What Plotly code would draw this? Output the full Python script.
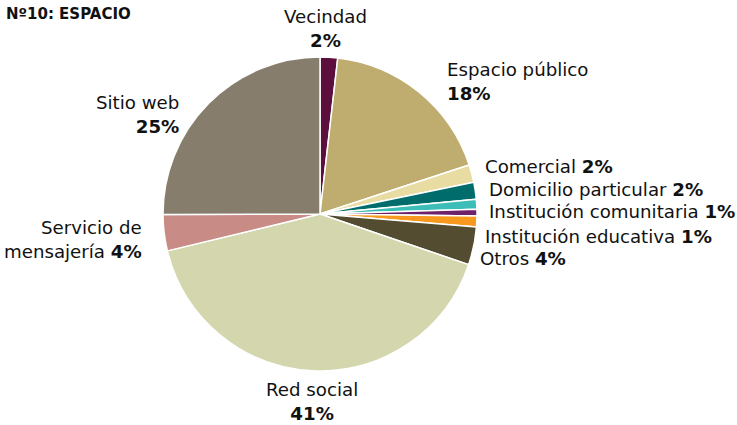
import plotly.graph_objects as go

W, H = 737, 425

categories = ["Vecindad", "Espacio público", "Comercial", "Domicilio particular",
              "Institución comunitaria", "", "Institución educativa", "Otros",
              "Red social", "Servicio de mensajería", "Sitio web"]
values = [1.8, 18.1, 1.8, 1.75, 1.0, 0.7, 1.1, 3.9, 40.9, 3.7, 25.0]
pct_labels = ["2%", "18%", "2%", "2%", "1%", "", "1%", "4%", "41%", "4%", "25%"]
colors = ["#5c0f3c", "#bfac6f", "#e8dca2", "#006c6c", "#3dbdb7", "#6e2068",
          "#f7991f", "#534c31", "#d4d6ae", "#c98b86", "#877d6d"]

FONT = "DejaVu Sans"
FS = 18.2

cx, cy, r = 320, 214, 157
fig = go.Figure(go.Pie(
    labels=categories,
    values=values,
    marker=dict(colors=colors, line=dict(color="white", width=1.5)),
    sort=False,
    direction="clockwise",
    rotation=0,
    textinfo="none",
    hoverinfo="label+percent",
    showlegend=False,
    domain=dict(x=[(cx - r) / W, (cx + r) / W],
                y=[(H - cy - r) / H, (H - cy + r) / H]),
))


def px(x, y):
    return x / W, 1 - y / H


# label layout: (index, x_px, y_px, xanchor, align, two_lines)
label_pos = [
    (0, 325, 28, "center", "center", True),
    (1, 445, 82, "left", "left", True),
    (2, 483, 166, "left", "left", False),
    (3, 487, 190, "left", "left", False),
    (4, 487, 212, "left", "left", False),
    (6, 483, 236, "left", "left", False),
    (7, 478, 258, "left", "left", False),
    (8, 312, 401, "center", "center", True),
    (10, 181, 115, "right", "right", True),
]

annotations = []
for i, xp, yp, xa, al, two in label_pos:
    sep = "<br>" if two else " "
    ax, ay = px(xp, yp)
    annotations.append(dict(
        x=ax, y=ay, xref="paper", yref="paper",
        text=f"{categories[i]}{sep}<b>{pct_labels[i]}</b>",
        xanchor=xa, yanchor="middle", align=al, showarrow=False,
        font=dict(family=FONT, size=FS, color="#111111"),
    ))

# Servicio de mensajería label wraps differently
ax, ay = px(144, 239)
annotations.append(dict(
    x=ax, y=ay, xref="paper", yref="paper",
    text=f"Servicio de<br>mensajería <b>{pct_labels[9]}</b>",
    xanchor="right", yanchor="middle", align="right", showarrow=False,
    font=dict(family=FONT, size=FS, color="#111111"),
))

# Title
ax, ay = px(4, 14)
annotations.append(dict(
    x=ax, y=ay, xref="paper", yref="paper",
    text="<b>Nº10: ESPACIO</b>", xanchor="left", yanchor="middle",
    showarrow=False, font=dict(family=FONT, size=15, color="#111111"),
))

fig.update_layout(
    width=W, height=H,
    margin=dict(l=0, r=0, t=0, b=0),
    paper_bgcolor="white",
    plot_bgcolor="white",
    annotations=annotations,
)

fig.write_html("out.html",
               config={"displayModeBar": False},
               post_script="document.body.style.margin='0';document.body.style.overflow='hidden';")
